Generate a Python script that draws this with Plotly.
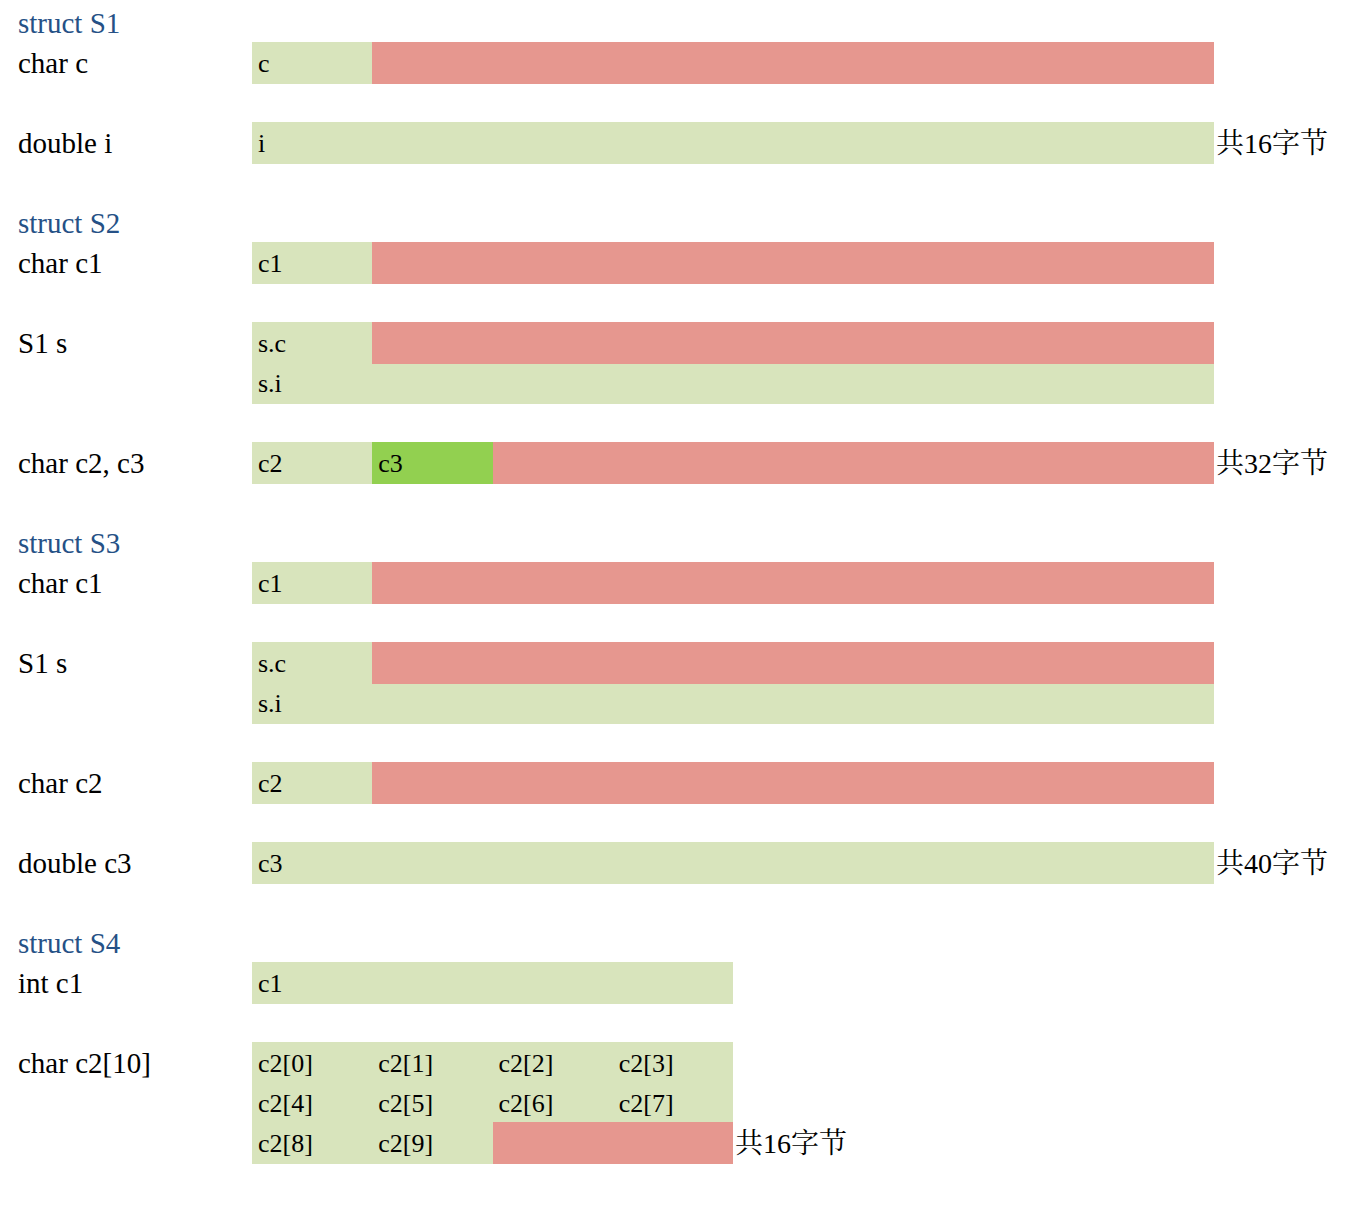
import plotly.graph_objects as go

# 每一行左侧的说明文字（空字符串表示空行 / 续行）
row_labels = [
    "struct S1", "char c", "", "double i", "",
    "struct S2", "char c1", "", "S1 s", "", "", "char c2, c3", "",
    "struct S3", "char c1", "", "S1 s", "", "", "char c2", "", "double c3", "",
    "struct S4", "int c1", "", "char c2[10]", "", "",
]
struct_rows = [0, 5, 13, 23]

# 内存格子：所在行、起始字节、字节数、名字、类型
cell_row = [1, 1, 3,
            6, 6, 8, 8, 9, 11, 11, 11,
            14, 14, 16, 16, 17, 19, 19, 21,
            24, 26, 26, 26, 26, 27, 27, 27, 27, 28, 28, 28]
cell_start = [0, 1, 0,
              0, 1, 0, 1, 0, 0, 1, 2,
              0, 1, 0, 1, 0, 0, 1, 0,
              0, 0, 1, 2, 3, 0, 1, 2, 3, 0, 1, 2]
cell_size = [1, 7, 8,
             1, 7, 1, 7, 8, 1, 1, 6,
             1, 7, 1, 7, 8, 1, 7, 8,
             4, 1, 1, 1, 1, 1, 1, 1, 1, 1, 1, 2]
cell_name = ["c", "", "i",
             "c1", "", "s.c", "", "s.i", "c2", "c3", "",
             "c1", "", "s.c", "", "s.i", "c2", "", "c3",
             "c1", "c2[0]", "c2[1]", "c2[2]", "c2[3]", "c2[4]", "c2[5]", "c2[6]", "c2[7]",
             "c2[8]", "c2[9]", ""]
cell_kind = ["data", "pad", "data",
             "data", "pad", "data", "pad", "data", "data", "data2", "pad",
             "data", "pad", "data", "pad", "data", "data", "pad", "data",
             "data", "data", "data", "data", "data", "data", "data", "data", "data",
             "data", "data", "pad"]

# 每个结构体的总大小标注
total_row = [3, 11, 21, 28]
total_text = ["共16字节", "共32字节", "共40字节", "共16字节"]

colors = {"data": "#D8E4BC", "data2": "#92D050", "pad": "#E6978F"}
FONT = "Liberation Serif, Noto Serif CJK SC, Noto Sans CJK SC, serif"

# 像素换算（页面 body 自带 8px 边距）：第0字节在 x=244px，每字节约120.25px；每行40px
BYTE_PX = 120.25
X0_PX = 244
ROW_PX = 40
Y0_PX = -6
W, H = 1366, 1212
BAR_H = 1.05
TXT_DY = 0.07

fig = go.Figure()

for kind in ["data", "pad", "data2"]:
    idx = [i for i in range(len(cell_row)) if cell_kind[i] == kind]
    fig.add_trace(go.Bar(
        orientation="h",
        y=[cell_row[i] + BAR_H / 2 for i in idx],
        x=[cell_size[i] for i in idx],
        base=[cell_start[i] for i in idx],
        width=BAR_H,
        marker=dict(color=colors[kind], line=dict(width=0)),
        hoverinfo="skip",
        showlegend=False,
    ))

# 格子内的名字
named = [i for i in range(len(cell_row)) if cell_name[i]]
fig.add_trace(go.Scatter(
    x=[cell_start[i] + 6 / BYTE_PX for i in named],
    y=[cell_row[i] + BAR_H / 2 + TXT_DY for i in named],
    text=[cell_name[i] for i in named],
    mode="text",
    textposition="middle right",
    textfont=dict(family=FONT, size=26, color="#000000"),
    hoverinfo="skip",
    showlegend=False,
))

# 左侧说明
lab_rows = [r for r in range(len(row_labels)) if row_labels[r]]
label_x = (10 - X0_PX) / BYTE_PX
fig.add_trace(go.Scatter(
    x=[label_x] * len(lab_rows),
    y=[r + BAR_H / 2 + TXT_DY for r in lab_rows],
    text=[row_labels[r] for r in lab_rows],
    mode="text",
    textposition="middle right",
    textfont=dict(family=FONT, size=29,
                  color=["#255186" if r in struct_rows else "#000000" for r in lab_rows]),
    hoverinfo="skip",
    showlegend=False,
))

# 总字节数
total_x = []
for r in total_row:
    total_x.append(max(cell_start[i] + cell_size[i] for i in range(len(cell_row)) if cell_row[i] == r))
fig.add_trace(go.Scatter(
    x=[x + 2 / BYTE_PX for x in total_x],
    y=[r + BAR_H / 2 + TXT_DY for r in total_row],
    text=total_text,
    mode="text",
    textposition="middle right",
    textfont=dict(family=FONT, size=28, color="#000000"),
    hoverinfo="skip",
    showlegend=False,
))

fig.update_layout(
    width=W, height=H,
    margin=dict(l=0, r=0, t=0, b=0),
    paper_bgcolor="white", plot_bgcolor="white",
    barmode="overlay",
    bargap=0,
    xaxis=dict(range=[-X0_PX / BYTE_PX, (W - X0_PX) / BYTE_PX], visible=False, fixedrange=True),
    yaxis=dict(range=[(H - Y0_PX) / ROW_PX, -Y0_PX / ROW_PX], visible=False, fixedrange=True),
)

fig.write_html("out.html")
